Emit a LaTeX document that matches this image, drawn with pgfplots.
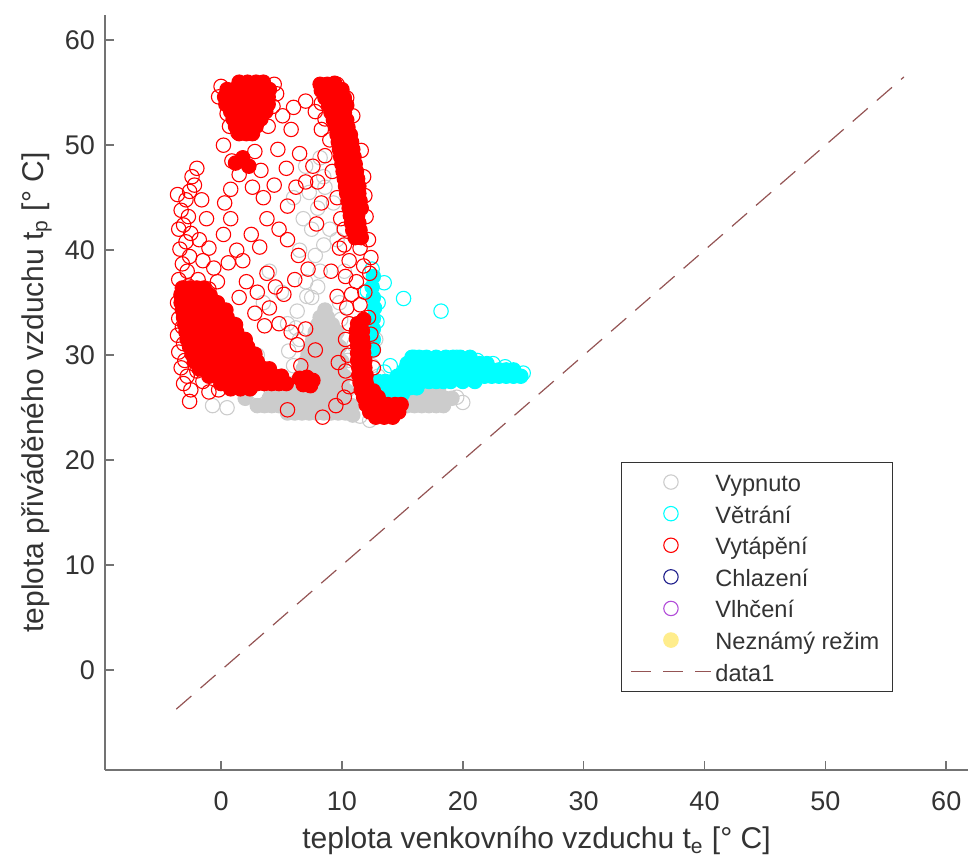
\documentclass[border=0pt]{standalone}
\usepackage{fontspec}
\setmainfont{Liberation Sans}
\usepackage{pgfplots}
\pgfplotsset{compat=1.18}

\definecolor{offgray}{rgb}{0.8,0.8,0.8}
\definecolor{ventcyan}{rgb}{0,1,1}
\definecolor{heatred}{rgb}{1,0,0}
\definecolor{coolblue}{rgb}{0.12,0.12,0.55}
\definecolor{humpurple}{rgb}{0.7,0.3,0.85}
\definecolor{unkyellow}{rgb}{1,0.93,0.55}
\definecolor{diagline}{rgb}{0.58,0.33,0.33}
\definecolor{axgray}{rgb}{0.45,0.45,0.45}
\definecolor{txt}{rgb}{0.2,0.2,0.2}

\pgfplotsset{
  legmark/.style={legend image code/.code={\path (0cm,0cm) (1.4cm,0cm); \draw[##1] plot coordinates {(0.7cm,0cm)};}},
  legline/.style={legend image code/.code={\draw[##1] (0cm,0cm) -- (1.4cm,0cm);}},
  circ/.style={only marks, mark=o, mark size=3.6pt, line width=0.55pt},
  blob/.style={only marks, mark=*, mark size=3.6pt, line width=0.55pt, forget plot},
}

\begin{document}
\begin{tikzpicture}
\begin{axis}[
  scale only axis, width=431.5pt, height=377.5pt,
  xmin=-9.6, xmax=61.8, ymin=-9.5, ymax=62.4,
  axis x line=bottom, axis y line=left,
  axis line style={-, draw=axgray, line width=0.8pt},
  tick align=inside, major tick length=4.3pt,
  tick style={axgray, line width=0.8pt},
  xtick={0,10,...,60}, ytick={0,10,...,60},
  /pgf/number format/assume math mode=true,
  ticklabel style={font=\fontsize{13.5}{15}\selectfont, text=txt},
  xticklabel style={yshift=-7.5pt},
  yticklabel style={xshift=-1.5pt},
  label style={font=\fontsize{15}{17}\selectfont, text=txt},
  xlabel={teplota venkovního vzduchu t\textsubscript{e} [° C]},
  ylabel={teplota přiváděného vzduchu t\textsubscript{p} [° C]},
  xlabel style={at={(axis description cs:0.5,-0.1046)}, anchor=base},
  ylabel style={at={(axis description cs:-0.0718,0.5)}, anchor=base},
  legend style={at={(axis description cs:0.913,0.408)}, anchor=north east,
    draw=black!80, line width=0.6pt, fill=white, text=txt,
    font=\fontsize{11.8}{14}\selectfont,
    nodes={inner ysep=1pt, text height=10pt, text depth=0.5pt},
    row sep=3.3pt, inner xsep=4.5pt, inner ysep=3.5pt},
  legend cell align=left,
]
% Vypnuto
\addplot[blob, color=offgray] coordinates {
(5.5,24.5)(6.1,24.5)(6.7,24.5)(7.3,24.5)(7.9,24.5)(8.5,24.5)(9.1,24.5)(9.7,24.5)(10.3,24.5)(10.9,24.3)
(3.0,25.2)(3.6,25.2)(4.2,25.2)(4.8,25.2)(5.4,25.2)(6.0,25.2)(6.6,25.2)(7.2,25.2)(7.8,25.2)(8.4,25.2)(9.0,25.2)(9.6,25.2)(10.2,25.2)(10.8,25.2)
(13.0,25.2)(13.6,25.2)(14.2,25.2)(14.8,25.2)(15.4,25.2)(16.0,25.2)(16.6,25.2)(17.2,25.2)(17.8,25.2)(18.4,25.2)
(2.0,25.9)(4.0,25.9)(4.6,25.9)(5.2,25.9)(5.8,25.9)(6.4,25.9)(7.0,25.9)(7.6,25.9)(8.2,25.9)(8.8,25.9)(9.4,25.9)(10.0,25.9)
(15.5,25.9)(16.1,25.9)(16.7,25.9)(17.3,25.9)(17.9,25.9)(18.5,25.9)(19.1,25.9)
(5.6,26.6)(6.2,26.6)(6.8,26.6)(7.4,26.6)(8.0,26.6)(8.6,26.6)(9.2,26.6)(9.8,26.6)(10.4,26.6)(16.0,26.6)(17.0,26.6)(18.0,26.6)
(6.0,27.3)(7.0,27.3)(7.6,27.3)(8.2,27.3)(8.8,27.3)(9.4,27.3)(10.0,27.3)
(6.6,28.0)(7.2,28.0)(7.8,28.0)(8.4,28.0)(9.0,28.0)(9.6,28.0)(10.2,28.0)
(6.8,28.7)(7.4,28.7)(8.0,28.7)(8.6,28.7)(9.2,28.7)(9.8,28.7)
(7.0,29.4)(7.6,29.4)(8.2,29.4)(8.8,29.4)(9.4,29.4)(10.0,29.4)
(7.2,30.1)(7.8,30.1)(8.4,30.1)(9.0,30.1)(9.6,30.1)
(7.4,30.8)(8.0,30.8)(8.6,30.8)(9.2,30.8)(9.8,30.8)
(7.6,31.5)(8.2,31.5)(8.8,31.5)(9.4,31.5)
(7.8,32.2)(8.4,32.2)(9.0,32.2)(9.6,32.2)
(8.0,32.9)(8.6,32.9)(9.2,32.9)(8.2,33.6)(8.8,33.6)(8.6,34.3)
};
\addplot[circ, color=offgray, legmark] coordinates {
(7.5,35.5)(8.0,36.5)(8.2,38.0)(7.8,39.5)(8.5,40.5)(7.5,42.0)(8.0,44.0)(7.3,45.5)(8.6,46.0)(6.8,43.0)
(6.5,40.0)(5.0,36.0)(4.0,38.0)(3.5,35.0)(5.5,33.0)(6.0,29.0)(5.0,28.0)(4.0,27.0)(3.0,26.5)(-0.7,25.2)
(0.5,25.0)(11.0,31.0)(12.0,30.5)(12.5,29.0)(13.0,28.0)(12.8,31.5)(9.8,35.0)(10.2,38.0)(9.6,41.0)(9.0,42.0)
(8.5,47.0)(7.0,48.0)(12.0,27.5)(13.5,27.0)(14.5,26.5)(19.5,26.0)(20.0,25.5)(11.5,24.2)(12.3,23.8)(6.5,31.5)
(9.0,26.0)(10.5,29.5)(11.0,27.5)(3.0,30.0)(1.0,33.0)(6.3,34.2)(7.0,37.0)(9.3,44.5)(8.2,48.8)(6.0,45.0)
(6.2,32.6)(5.6,30.4)(9.9,33.4)(7.1,35.6)
};
\addlegendentry{Vypnuto}
% Vetrani
\addplot[blob, color=ventcyan] coordinates {
(15.8,29.8)(16.4,29.8)(17.0,29.8)(17.8,29.8)(18.6,29.8)(19.2,29.8)(19.8,29.8)(20.6,29.8)
(15.4,29.2)(16.0,29.2)(16.6,29.2)(17.2,29.2)(17.8,29.2)(18.4,29.2)(19.0,29.2)(19.6,29.2)(20.2,29.2)(20.8,29.2)(21.4,29.2)(22.0,29.2)
(15.2,28.6)(15.8,28.6)(16.4,28.6)(17.0,28.6)(17.6,28.6)(18.2,28.6)(18.8,28.6)(19.4,28.6)(20.0,28.6)(20.6,28.6)(21.2,28.6)(21.8,28.6)(22.4,28.6)(23.0,28.6)(23.6,28.6)(24.2,28.6)
(14.6,28.0)(15.2,28.0)(15.8,28.0)(16.4,28.0)(17.0,28.0)(17.6,28.0)(18.2,28.0)(18.8,28.0)(19.4,28.0)(20.0,28.0)(20.6,28.0)(21.2,28.0)(21.8,28.0)(22.4,28.0)(23.0,28.0)(23.6,28.0)(24.2,28.0)(24.8,28.0)
(13.0,27.5)(13.6,27.5)(14.2,27.5)(14.8,27.5)(15.4,27.5)(16.0,27.5)(16.6,27.5)(17.2,27.5)(17.8,27.5)(18.4,27.5)(19.0,27.5)(20.0,27.5)(21.0,27.5)
(12.6,26.9)(13.2,26.9)(13.8,26.9)(14.4,26.9)(15.0,26.9)(15.6,26.9)(16.2,26.9)
(12.6,26.3)(13.2,26.3)(13.8,26.3)(14.4,26.3)(15.0,26.3)
(12.6,30.5)(12.6,31.5)(12.6,32.5)(12.6,33.5)(12.7,34.5)(12.6,35.5)(12.5,36.5)(12.6,37.5)
};
\addplot[circ, color=ventcyan, legmark] coordinates {
(13.5,36.9)(15.1,35.4)(18.2,34.2)(12.1,36.1)(12.5,38.2)(13.0,35.0)(12.9,33.2)
(16.0,29.8)(19.5,29.8)(21.2,29.5)(25.0,28.3)(23.5,28.9)(22.5,29.2)(14.0,29.0)(13.5,28.4)
};
\addlegendentry{Větrání}
% Vytapeni
\addplot[blob, color=heatred] coordinates {
(1.5,56.0)(2.2,56.0)(2.9,56.0)(3.5,56.0)
(0.5,55.3)(1.1,55.3)(1.7,55.3)(2.3,55.3)(2.9,55.3)(3.5,55.3)(4.0,55.3)
(0.3,54.6)(0.9,54.6)(1.5,54.6)(2.1,54.6)(2.7,54.6)(3.3,54.6)(3.9,54.6)
(0.4,53.9)(1.0,53.9)(1.6,53.9)(2.2,53.9)(2.8,53.9)(3.4,53.9)(3.9,53.9)
(0.8,53.2)(1.4,53.2)(2.0,53.2)(2.6,53.2)(3.2,53.2)(3.7,53.2)
(1.0,52.5)(1.6,52.5)(2.2,52.5)(2.8,52.5)(3.3,52.5)
(1.2,51.8)(1.8,51.8)(2.4,51.8)(2.9,51.8)(1.5,51.1)(2.1,51.1)(2.6,51.1)
(1.2,48.3)(1.8,48.8)(2.3,48.0)
(8.2,55.8)(8.8,55.8)(9.4,55.9)
(8.3,55.2)(8.9,55.2)(9.4,55.2)(10.0,55.3)
(8.6,54.5)(9.2,54.5)(9.7,54.5)(10.2,54.5)
(8.9,53.8)(9.5,53.8)(10.0,53.8)(10.4,53.8)
(9.1,53.1)(9.7,53.1)(10.2,53.1)
(9.3,52.4)(9.9,52.4)(10.4,52.4)
(9.5,51.7)(10.0,51.7)(10.5,51.7)
(9.6,51.0)(10.2,51.0)(10.7,51.0)
(9.7,50.3)(10.3,50.3)(10.8,50.3)
(9.8,49.6)(10.4,49.6)(10.9,49.6)
(9.9,48.9)(10.5,48.9)(11.0,48.9)
(10.0,48.2)(10.6,48.2)(11.1,48.2)
(10.1,47.5)(10.7,47.5)(11.2,47.5)
(10.2,46.8)(10.8,46.8)(11.3,46.8)
(10.3,46.1)(10.9,46.1)(11.4,46.1)
(10.4,45.4)(11.0,45.4)(11.4,45.4)
(10.5,44.7)(11.1,44.7)(11.5,44.7)
(10.6,44.0)(11.2,44.0)(11.6,44.0)
(10.7,43.3)(11.3,43.3)(10.8,42.6)(11.4,42.6)
(10.9,41.9)(11.5,41.9)(11.1,41.2)(11.6,41.2)
(11.3,33.0)(11.8,33.4)(11.2,32.3)(11.7,32.3)(11.2,31.6)(11.7,31.6)
(11.3,30.9)(11.8,30.9)(11.3,30.2)(11.8,30.2)(11.3,29.5)(11.9,29.5)
(11.4,28.8)(11.9,28.8)(11.4,28.1)(12.0,28.1)(11.5,27.4)(12.0,27.4)
(11.6,26.7)(12.1,26.7)(12.6,26.6)(11.8,26.0)(12.4,26.0)(13.0,26.0)
(12.0,25.3)(12.6,25.3)(13.2,25.3)(13.8,25.3)(14.4,25.3)(14.9,25.3)
(12.3,24.6)(12.9,24.6)(13.5,24.6)(14.1,24.6)(14.7,24.6)
(12.8,24.1)(13.5,24.1)(14.2,24.1)
(-3.2,36.4)(-2.6,36.4)(-2.0,36.4)(-1.4,36.4)
(-3.3,35.7)(-2.7,35.7)(-2.1,35.7)(-1.5,35.7)(-0.9,35.7)
(-3.3,35.0)(-2.7,35.0)(-2.1,35.0)(-1.5,35.0)(-0.9,35.0)(-0.3,35.0)
(-3.2,34.3)(-2.6,34.3)(-2.0,34.3)(-1.4,34.3)(-0.8,34.3)(-0.2,34.3)(0.4,34.3)
(-3.1,33.6)(-2.5,33.6)(-1.9,33.6)(-1.3,33.6)(-0.7,33.6)(-0.1,33.6)(0.5,33.6)
(-3.0,32.9)(-2.4,32.9)(-1.8,32.9)(-1.2,32.9)(-0.6,32.9)(0.0,32.9)(0.6,32.9)(1.2,32.9)
(-2.9,32.2)(-2.3,32.2)(-1.7,32.2)(-1.1,32.2)(-0.5,32.2)(0.1,32.2)(0.7,32.2)(1.3,32.2)
(-2.8,31.5)(-2.2,31.5)(-1.6,31.5)(-1.0,31.5)(-0.4,31.5)(0.2,31.5)(0.8,31.5)(1.4,31.5)(2.0,31.5)
(-2.6,30.8)(-2.0,30.8)(-1.4,30.8)(-0.8,30.8)(-0.2,30.8)(0.4,30.8)(1.0,30.8)(1.6,30.8)(2.2,30.8)
(-2.4,30.1)(-1.8,30.1)(-1.2,30.1)(-0.6,30.1)(0.0,30.1)(0.6,30.1)(1.2,30.1)(1.8,30.1)(2.4,30.1)(2.8,30.1)
(-2.2,29.4)(-1.6,29.4)(-1.0,29.4)(-0.4,29.4)(0.2,29.4)(0.8,29.4)(1.4,29.4)(2.0,29.4)(2.6,29.4)(3.0,29.4)
(-1.8,28.7)(-1.2,28.7)(-0.6,28.7)(0.0,28.7)(0.6,28.7)(1.2,28.7)(1.8,28.7)(2.4,28.7)(3.0,28.7)(3.6,28.7)(4.0,28.7)
(-1.0,28.0)(-0.4,28.0)(0.2,28.0)(0.8,28.0)(1.4,28.0)(2.0,28.0)(2.6,28.0)(3.2,28.0)(3.8,28.0)(4.4,28.0)(5.0,28.0)
(0.0,27.3)(0.6,27.3)(1.2,27.3)(1.8,27.3)(2.4,27.3)(3.0,27.3)(3.6,27.3)(4.2,27.3)(4.8,27.3)(5.4,27.3)
(0.8,26.8)(1.6,26.8)(2.4,26.8)
(6.5,27.8)(7.1,27.9)(7.6,27.6)(6.8,27.2)(7.4,27.1)
};
\addplot[circ, color=heatred, legmark] coordinates {
(-2.0,47.8)(-2.4,47.0)(-2.2,46.2)(-2.6,45.6)(-3.6,45.3)(-2.9,44.8)(-3.3,43.8)(-2.7,43.2)(-3.1,42.4)(-3.5,42.0)
(-2.5,41.6)(-2.9,40.8)(-3.4,40.1)(-2.6,39.4)(-3.2,38.7)(-2.8,38.0)(-3.5,37.2)(-2.7,36.6)(-3.3,35.8)(-3.6,35.0)
(-3.0,34.3)(-3.5,33.5)(-3.2,32.7)(-3.6,31.9)(-3.1,31.1)(-3.5,30.3)(-3.0,29.5)(-3.3,28.8)(-2.8,28.0)(-3.1,27.3)
(-2.5,26.7)(-2.6,25.6)
(-1.6,44.8)(-1.2,43.0)(-1.8,41.0)(-1.0,40.2)(-1.5,39.0)(-0.6,38.3)(-1.9,37.2)(-1.0,36.3)(-0.3,37.0)(-1.6,35.8)
(0.3,44.5)(0.8,43.0)(0.2,41.5)(1.3,40.0)(0.6,38.8)(1.8,39.0)(2.5,41.5)(3.2,40.3)(2.1,37.0)(3.0,36.0)
(3.8,37.8)(4.5,36.5)(1.5,35.5)(2.8,34.0)(4.0,34.5)(5.2,35.8)(3.6,32.8)(4.8,33.0)(5.8,32.2)(6.3,31.0)
(7.0,32.5)(6.6,29.0)(7.8,30.5)(7.4,27.2)(8.4,24.1)(5.5,24.8)(-0.2,26.7)(0.8,45.8)(1.5,47.2)(0.9,48.5)
(0.2,50.0)(1.4,51.2)(2.8,49.4)(3.3,47.6)(2.6,46.0)(3.5,45.0)(4.4,46.2)(3.8,43.0)(4.8,42.0)(5.5,44.2)
(6.2,46.0)(5.4,47.8)(6.5,49.2)(7.6,48.0)(7.0,46.5)(4.7,49.6)(3.9,51.8)(5.1,52.8)(6.0,53.6)(7.0,54.2)
(7.8,53.2)(5.8,51.5)(4.3,53.7)(5.5,41.0)(6.4,39.5)(7.2,38.2)(6.1,37.2)(7.9,42.5)(8.3,44.5)(8.0,46.5)
(8.6,49.0)(8.3,51.5)
(10.2,40.5)(11.5,40.2)(12.2,41.0)(10.6,39.0)(11.8,38.5)(12.4,39.3)(10.3,37.5)(11.2,37.0)(12.3,37.8)(10.8,35.8)
(11.9,36.0)(10.4,34.5)(11.5,34.8)(12.2,33.6)(10.6,33.0)(9.6,35.6)(9.1,38.0)(9.8,40.2)
(10.3,31.5)(10.5,30.0)(10.3,28.5)(10.6,27.0)(10.2,26.0)(9.7,29.3)(9.5,25.2)(12.4,32.0)(12.6,30.5)(12.6,28.8)
(0.0,55.6)(-0.2,54.6)(4.4,55.8)(4.6,54.9)(0.5,53.0)(0.7,51.8)
(11.8,47.0)(11.9,45.2)(11.6,49.5)(10.9,52.8)(10.4,54.5)(9.6,55.8)(12.0,43.2)(8.3,54.0)(8.6,52.5)(9.0,50.5)
(9.2,47.5)(9.6,45.0)(9.9,43.0)(10.2,42.0)
(-2.2,30.5)(-2.0,28.5)(-1.5,27.5)(-1.0,26.5)(0.0,28.0)
};
\addlegendentry{Vytápění}
\addlegendimage{circ, color=coolblue, legmark}
\addlegendentry{Chlazení}
\addlegendimage{circ, color=humpurple, legmark}
\addlegendentry{Vlhčení}
\addlegendimage{only marks, mark=*, mark size=3.6pt, color=unkyellow, legmark}
\addlegendentry{Neznámý režim}
\addplot[diagline, line width=0.6pt, dash pattern=on 10pt off 6pt, legline] coordinates {(-3.7,-3.7) (56.5,56.5)};
\addlegendentry{data1}
\end{axis}
\pgfresetboundingbox
\path ([shift={(-52.5pt,-46pt)}]current axis.south west) rectangle ([shift={(0pt,7.5pt)}]current axis.north east);
\end{tikzpicture}
\end{document}
